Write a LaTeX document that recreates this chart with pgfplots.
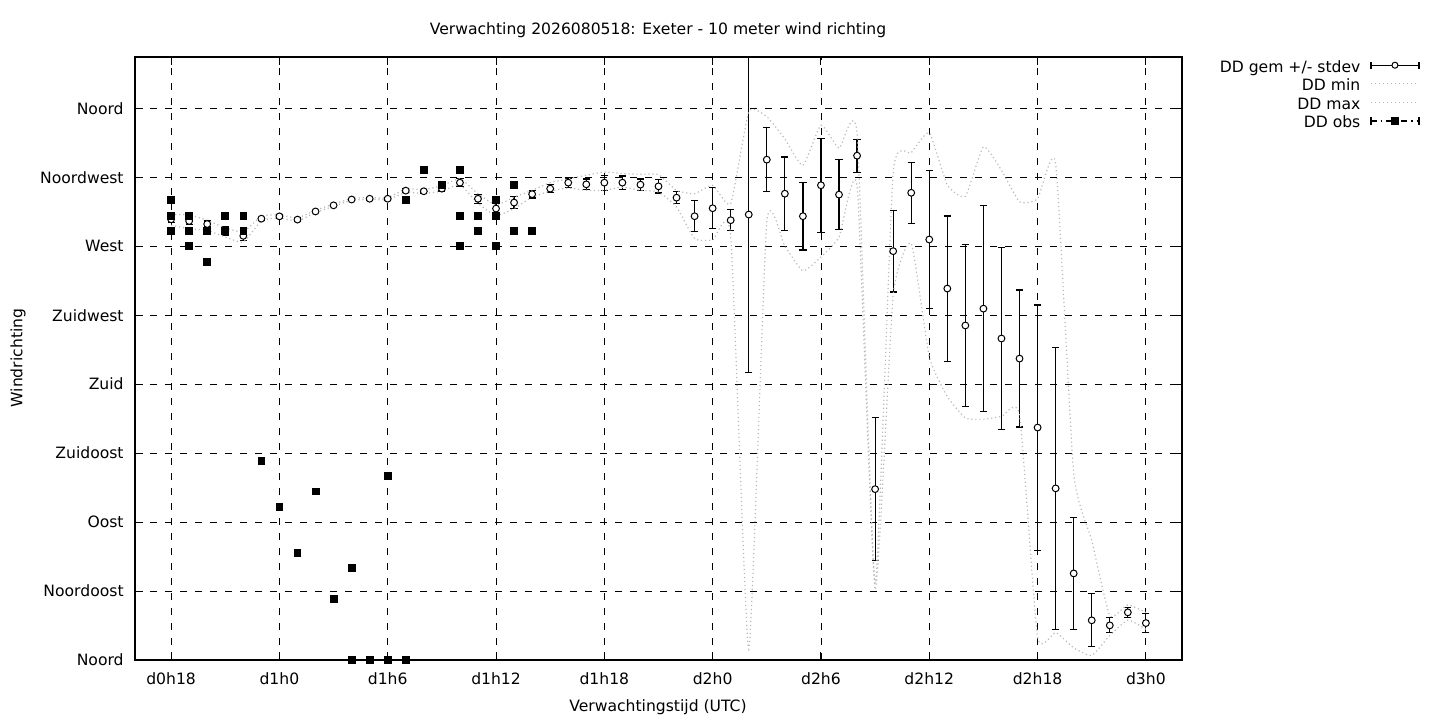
\documentclass[border=0pt]{standalone}
\usepackage{fontspec}
\setmainfont{DejaVu Sans}
\usepackage{pgfplots}
\pgfplotsset{compat=1.18}
\usepackage{pgfplotstable}

\pgfplotstableread{
x y e
18 287.6 2.2
19 286.5 2.5
20 284.5 2.0
21 280.0 2.6
22 276.8 3.3
23 288.0 1.0
24 289.5 1.0
25 287.4 1.0
26 292.7 0.8
27 296.7 0.8
28 300.5 0.8
29 301.0 0.8
30 301.0 1.0
31 306.3 1.2
32 305.9 1.2
33 307.6 1.5
34 311.5 2.7
35 301.0 3.0
36 294.6 3.5
37 298.5 4.0
38 304.0 2.5
39 307.6 2.5
40 311.5 3.0
41 310.4 3.5
42 311.5 4.9
43 311.5 4.3
44 310.2 3.7
45 309.1 4.3
46 301.7 4.0
47 289.6 10.0
48 294.8 13.3
49 287.0 6.8
50 290.7 103.0
51 326.5 21.0
52 304.3 24.0
53 289.6 22.0
54 309.8 30.6
55 303.7 22.8
56 329.1 10.8
57 111.5 46.6
58 266.8 26.7
59 304.9 19.9
60 274.4 44.9
61 242.4 47.4
62 218.3 53.0
63 229.3 67.3
64 209.8 59.6
65 196.7 44.7
66 151.7 80.0
67 112.0 92.0
68 56.5 36.5
69 25.9 17.3
70 22.6 4.9
71 31.1 3.1
72 24.1 6.4
}\meantable

\pgfplotstableread{
x y
18 283.7
19 281.5
20 280.4
21 276.0
22 272.8
23 286.5
24 288.5
25 286.5
26 292.0
27 296.0
28 300.0
29 300.5
30 300.5
31 305.0
32 304.5
33 306.0
34 310.0
35 298.0
36 290.0
37 294.6
38 302.0
39 306.0
40 308.0
41 306.5
42 306.5
43 308.5
44 306.5
45 305.4
46 295.7
47 275.0
48 274.0
49 277.0
50 7.0
51 286.0
52 270.0
53 254.0
54 263.0
55 276.0
56 309.0
57 46.0
58 238.0
59 272.0
60 198.0
61 172.0
62 158.0
63 157.0
64 159.0
65 160.0
66 15.0
67 18.0
68 8.0
69 3.0
70 16.0
71 26.0
72 20.0
}\mintable

\pgfplotstableread{
x y
18 290.7
19 290.5
20 287.0
21 282.0
22 279.5
23 289.5
24 290.5
25 288.5
26 293.5
27 297.5
28 301.2
29 301.7
30 301.7
31 307.5
32 307.0
33 309.5
34 314.0
35 304.3
36 297.0
37 302.0
38 306.5
39 311.5
40 314.0
41 316.3
42 318.5
43 317.4
44 317.0
45 316.7
46 306.5
47 304.3
48 309.8
49 297.8
50 357.7
51 354.5
52 340.0
53 322.8
54 349.0
55 334.0
56 343.5
57 50.0
58 318.0
59 331.0
60 344.0
61 310.0
62 302.6
63 334.8
64 319.6
65 299.0
66 301.0
67 324.0
68 122.0
69 78.0
70 29.0
71 36.0
72 31.0
}\maxtable

\pgfplotstableread{
x y
18 300
18 290
18 280
19 290
19 280
19 270
20 280
20 260
21 290
21 280
22 290
22 280
23 130
24 100
25 70
26 110
27 40
28 60
28 0
29 0
30 120
30 0
31 300
31 0
32 320
33 310
34 320
34 290
34 270
35 290
35 280
36 300
36 290
36 270
37 310
37 280
38 280
}\obstable

\begin{document}
\fontsize{7.8}{9.3}\selectfont
\begin{tikzpicture}[font=\fontsize{7.8}{9.3}\selectfont]
\useasboundingbox (0,0) rectangle (720pt,360pt);
\begin{axis}[
  at={(67.5pt,30pt)}, anchor=south west,
  scale only axis, width=523.5pt, height=301.5pt,
  xmin=16, xmax=74, ymin=0, ymax=393.5,
  xtick={18,24,...,72},
  xticklabels={d0h18,d1h0,d1h6,d1h12,d1h18,d2h0,d2h6,d2h12,d2h18,d3h0},
  ytick={0,45,...,360},
  yticklabels={Noord,Noordoost,Oost,Zuidoost,Zuid,Zuidwest,West,Noordwest,Noord},
  tick align=inside, major tick length=4pt,
  tick style={black, line width=0.5pt},
  grid=major,
  grid style={black, line width=0.45pt, dash pattern=on 3.5pt off 4pt},
  axis line style={black, line width=0.6pt},
  y tick label style={inner sep=0pt, xshift=-5.5pt},
  x tick label style={inner sep=0pt, yshift=-6pt},
  legend cell align=right,
  legend plot pos=right,
  legend style={at={(1.2273,1)}, anchor=north east, yshift=-1.7pt,
    draw=none, fill=none, inner sep=0pt, row sep=2.1pt,
    nodes={inner sep=0pt, text height=5.6pt, text depth=1.6pt},
    /tikz/every odd column/.append style={column sep=5pt}},
]
\addplot[black, line width=0.6pt, only marks, mark=*, mark size=1.7pt,
  mark options={fill=white, draw=black, line width=0.5pt},
  legend image code/.code={
    \draw[black, line width=0.6pt] (0pt,1.4pt) -- (24pt,1.4pt);
    \draw[black, line width=0.6pt] (0pt,-0.4pt) -- (0pt,3.2pt);
    \draw[black, line width=0.6pt] (24pt,-0.4pt) -- (24pt,3.2pt);
    \draw[black, line width=0.5pt, fill=white] (12pt,1.4pt) circle (1.5pt);},
  error bars/.cd, y dir=both, y explicit,
  error bar style={black, line width=0.6pt},
  error mark options={rotate=90, black, line width=0.6pt, mark size=1.8pt}]
  table[x=x, y=y, y error=e] {\meantable};
\addlegendentry{DD gem +/- stdev}
\addplot[gray!55, line width=0.6pt, dash pattern=on 0.6pt off 1.4pt, smooth, tension=0.3, no marks,
  legend image code/.code={\draw[gray!55, line width=0.6pt, dash pattern=on 0.6pt off 1.4pt] (0pt,1.4pt) -- (24pt,1.4pt);}]
  table[x=x, y=y] {\mintable};
\addlegendentry{DD min}
\addplot[gray!55, line width=0.6pt, dash pattern=on 0.6pt off 1.4pt, smooth, tension=0.3, no marks,
  legend image code/.code={\draw[gray!55, line width=0.6pt, dash pattern=on 0.6pt off 1.4pt] (0pt,1.4pt) -- (24pt,1.4pt);}]
  table[x=x, y=y] {\maxtable};
\addlegendentry{DD max}
\addplot[black, only marks, mark=square*, mark size=1.7pt,
  legend image code/.code={
    \draw[black, line width=0.6pt, dash pattern=on 3pt off 2pt on 0.6pt off 2pt] (0pt,1.4pt) -- (24pt,1.4pt);
    \draw[black, line width=0.6pt] (0pt,-0.4pt) -- (0pt,3.2pt);
    \draw[black, line width=0.6pt] (24pt,-0.4pt) -- (24pt,3.2pt);
    \fill[black] (10.3pt,-0.3pt) rectangle (13.7pt,3.1pt);}]
  table[x=x, y=y] {\obstable};
\addlegendentry{DD obs}
\end{axis}
\node[anchor=base] at (329pt,342.75pt) {Verwachting 2026080518: Exeter - 10 meter wind richting};
\node[rotate=90] at (9pt,181pt) {Windrichting};
\node at (329pt,6.5pt) {Verwachtingstijd (UTC)};
\end{tikzpicture}
\end{document}
